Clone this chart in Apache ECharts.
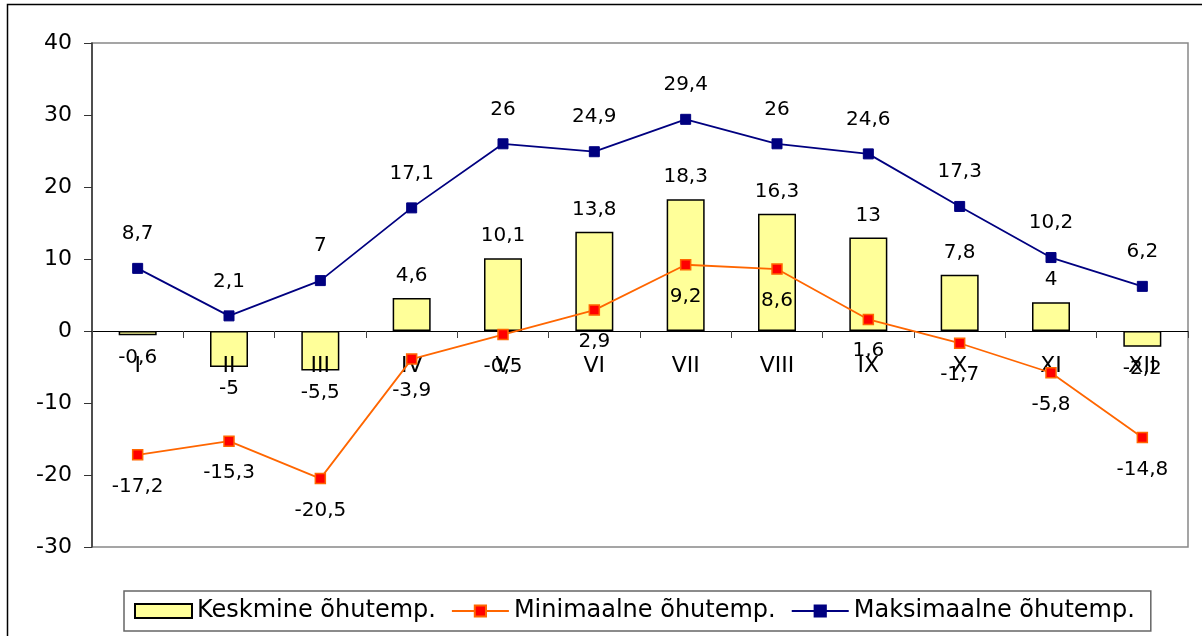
<!DOCTYPE html>
<html>
<head>
<meta charset="utf-8">
<script src="https://cdn.jsdelivr.net/npm/echarts@6/dist/echarts.min.js"></script>
<style>
  html, body { margin: 0; padding: 0; background: #fff; }
  #chart { width: 1202px; height: 636px; }
</style>
</head>
<body>
<div id="chart"></div>
<script>
const months = ['I', 'II', 'III', 'IV', 'V', 'VI', 'VII', 'VIII', 'IX', 'X', 'XI', 'XII']
const meanTemp = [-0.6, -5, -5.5, 4.6, 10.1, 13.8, 18.3, 16.3, 13, 7.8, 4, -2.2]
const minTemp = [-17.2, -15.3, -20.5, -3.9, -0.5, 2.9, 9.2, 8.6, 1.6, -1.7, -5.8, -14.8]
const maxTemp = [8.7, 2.1, 7, 17.1, 26, 24.9, 29.4, 26, 24.6, 17.3, 10.2, 6.2]

const yMin = -30
const yMax = 40
const gridHeight = 504
// category axis sits on the zero line, like the Excel original
const zeroOffset = -Math.round((0 - yMin) / (yMax - yMin) * gridHeight)

const font = 'DejaVu Sans, Liberation Sans, sans-serif'
const comma = (p) => String(p.value).replace('.', ',')

const chart = echarts.init(document.getElementById('chart'))

chart.setOption({
  animation: false,
  textStyle: { fontFamily: font },
  graphic: [{
    type: 'rect',
    shape: { x: 7.5, y: 4.5, width: 1300, height: 700 },
    style: { fill: 'none', stroke: '#000', lineWidth: 1.5 },
    silent: true
  }],
  grid: {
    left: 92, top: 43, width: 1096, height: gridHeight,
    show: true, borderColor: '#888', borderWidth: 1.5, backgroundColor: 'transparent'
  },
  legend: {
    bottom: 5, left: 124,
    itemGap: 15, itemWidth: 57, itemHeight: 14,
    padding: [8, 16, 8, 10],
    borderColor: '#666', borderWidth: 1.5,
    textStyle: { fontSize: 24, color: '#000', fontFamily: font },
    data: [
      { name: 'Keskmine õhutemp.', icon: 'rect' },
      'Minimaalne õhutemp.',
      'Maksimaalne õhutemp.'
    ]
  },
  xAxis: {
    type: 'category',
    data: months,
    offset: zeroOffset,
    z: 2,
    axisLine: { onZero: false, lineStyle: { color: '#000', width: 1 } },
    axisTick: { show: true, length: 7, lineStyle: { color: '#444' } },
    axisLabel: { fontSize: 22, color: '#000', margin: 24 },
    splitLine: { show: false }
  },
  yAxis: {
    type: 'value',
    min: yMin, max: yMax, interval: 10,
    axisLine: { show: true, lineStyle: { color: '#333', width: 1.5 } },
    axisTick: { show: true, length: 8, lineStyle: { color: '#333' } },
    axisLabel: { fontSize: 22, color: '#000', margin: 20 },
    splitLine: { show: false }
  },
  series: [
    {
      name: 'Keskmine õhutemp.',
      type: 'bar',
      data: meanTemp,
      barWidth: 38,
      itemStyle: { color: '#FFFF99', borderColor: '#000', borderWidth: 1.5 },
      label: { show: true, position: 'outside', distance: 12, fontSize: 20, color: '#000', formatter: comma },
      z: 1
    },
    {
      name: 'Minimaalne õhutemp.',
      type: 'line',
      data: minTemp,
      symbol: 'rect', symbolSize: 10,
      lineStyle: { color: '#FF6600', width: 1.8 },
      itemStyle: { color: '#FF0000', borderColor: '#FF6600', borderWidth: 1.5 },
      label: { show: true, position: 'bottom', distance: 16, fontSize: 20, color: '#000', formatter: comma },
      z: 3
    },
    {
      name: 'Maksimaalne õhutemp.',
      type: 'line',
      data: maxTemp,
      symbol: 'rect', symbolSize: 10,
      lineStyle: { color: '#000080', width: 1.8 },
      itemStyle: { color: '#000080', borderColor: '#000080', borderWidth: 1 },
      label: { show: true, position: 'top', distance: 19, fontSize: 20, color: '#000', formatter: comma },
      z: 3
    }
  ]
})
</script>
</body>
</html>
